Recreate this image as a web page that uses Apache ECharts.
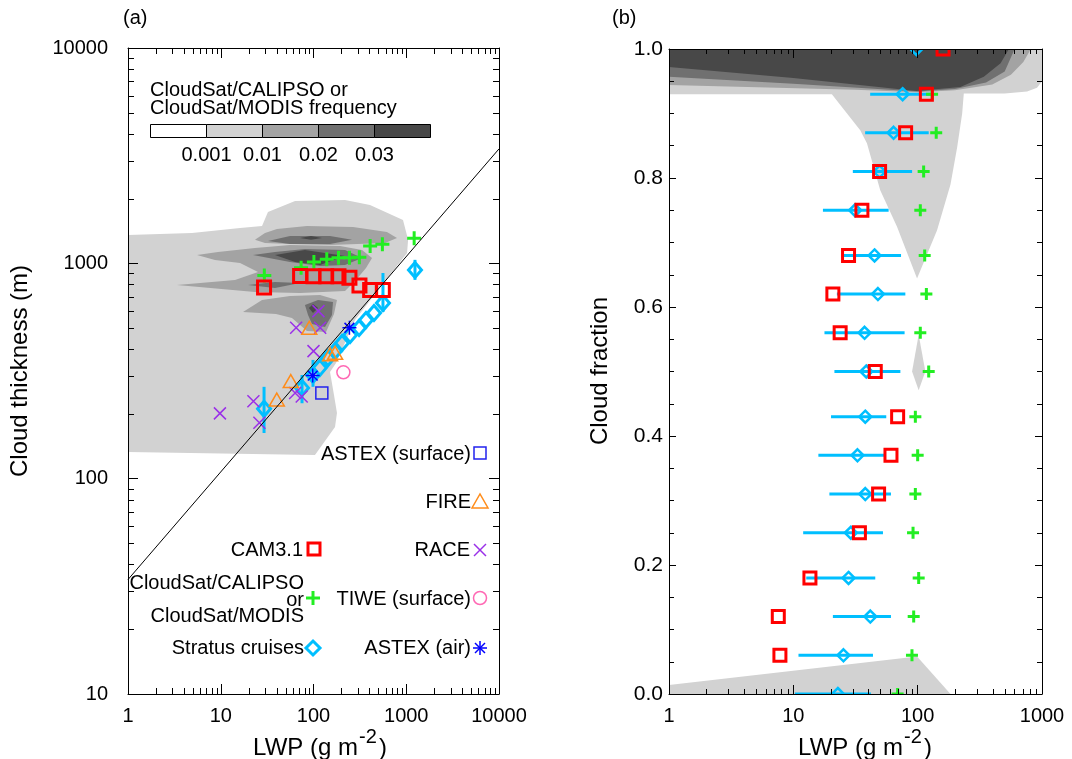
<!DOCTYPE html>
<html lang="en">
<head>
<meta charset="UTF-8">
<title>Cloud thickness / cloud fraction vs LWP</title>
<script src="https://cdn.jsdelivr.net/npm/echarts@6/dist/echarts.min.js"></script>
<style>
    html,body{margin:0;padding:0;background:#fff;}
    #main{width:1072px;height:759px;}
</style>
</head>
<body>
<div id="main"></div>
<script>
    // ---------- panel (a): LWP (g m-2) vs cloud thickness (m) ----------
    var camA = [[29.3,773],[71.7,873],[100,870],[137,870],[186,870],[244,858],[313,790],[408,751],[559,751]];
    var satA = [[29.5,879],[73.5,955],[101,1014],[139,1044],[186,1062],[244,1062],[312,1067],[408,1203],[553,1225],[1217,1307]];
    var stratusA = [[1242,931],[561,655],[449,588],[368,546],[310,501],[248,465],[203,427],[171,392],[143,363],[117,327],[98.8,303],[75.2,264],[29.3,211]];
    // [LWP, low, high]
    var stratusErrA = [[1242,838,1038],[561,594,902],[98.8,267,356],[75.2,224,303],[29.3,163,267]];
    var raceA = [[113,600],[65,502],[118,502],[100,391],[22.5,229],[9.8,201],[26.1,182],[63.4,250],[74.6,241]];
    var fireA = [[90,502],[151,378],[171,384],[56.9,284],[40.2,233]];
    var astexAirA = [[244,502],[98,301]];
    var tiweA = [[210,312]];
    var astexSfcA = [[123,250]];
    var fitLineA = [[1,34],[10000,3400]];

    // frequency contours, vertices as [log10 LWP, log10 thickness]
    var shadeA1 = [
        [[0,2.124],[0,3.132],[0.69,3.141],[1.208,3.164],[1.445,3.173],[1.509,3.238],[1.801,3.289],[2.34,3.294],[2.609,3.271],[2.965,3.201],[3.02,3.109],[3.009,3.048],[2.933,3.006],[2.447,2.737],[2.243,2.537],[2.178,2.495],[2.221,2.389],[2.253,2.305],[2.232,2.24],[2.016,2.11]]
    ];
    var shadeA2 = [
        [[1.369,3.109],[1.477,3.141],[1.606,3.159],[1.93,3.173],[2.426,3.169],[2.792,3.146],[2.9,3.118],[2.771,3.095],[2.178,3.085],[1.747,3.09],[1.477,3.095]],
        [[0.744,3.039],[0.97,3.053],[1.369,3.071],[1.747,3.085],[2.286,3.081],[2.523,3.062],[2.631,3.025],[2.566,2.978],[2.458,2.923],[2.34,2.872],[1.854,2.862],[1.369,2.867],[0.528,2.899],[1.154,2.923],[1.402,2.96],[1.208,3.002],[0.938,3.016]],
        [[1.24,2.774],[1.445,2.83],[1.747,2.848],[2.07,2.853],[2.253,2.83],[2.221,2.765],[2.135,2.681],[1.93,2.686],[1.768,2.746],[1.596,2.765]]
    ];
    var shadeA3 = [
        [[1.509,3.104],[1.747,3.127],[2.178,3.127],[2.415,3.109],[2.178,3.09],[1.747,3.09]],
        [[1.348,3.039],[1.585,3.053],[1.908,3.067],[2.34,3.062],[2.523,3.025],[2.34,2.992],[2.07,2.988],[1.747,3.006]],
        [[1.294,2.899],[1.585,2.913],[1.854,2.909],[1.585,2.885]],
        [[1.908,2.807],[2.049,2.83],[2.21,2.82],[2.199,2.76],[2.124,2.704],[1.984,2.718],[1.941,2.76]]
    ];
    var shadeA4 = [
        [[1.585,3.039],[1.908,3.062],[2.34,3.034],[2.07,2.992],[1.801,3.006]],
        [[1.854,3.118],[1.973,3.127],[2.092,3.118],[1.973,3.109]],
        [[1.951,2.793],[1.995,2.811],[2.049,2.793],[1.995,2.769]]
    ];

    // ---------- panel (b): LWP vs cloud fraction ----------
    var fracRows   = [0,0.06,0.12,0.18,0.25,0.31,0.37,0.43,0.5,0.56,0.62,0.68,0.75,0.81,0.87,0.93,1.0];
    var stratusB   = [22.8,25.3,41.6,27.8,29,37.9,32.8,37.9,38.6,37.4,47.9,45,31.4,49.4,64,75.7,97.7];
    var stratusLoB = [10.3,11,20.8,12.7,12,19.5,15.9,20.1,21.4,17.8,22.4,25.3,17.3,30.1,37.8,41.5,null];
    var stratusHiB = [42.1,43.7,61,45.6,52.6,61,55,55.9,72.6,78.5,79.6,73.5,58.4,90.2,122.7,130.6,null];
    var camB       = [null,7.8,7.57,13.6,34,48.5,61,69,45.6,23.8,20.8,27.8,35.6,49.4,80,117.5,160];
    var satB       = [69,90,92.9,101.9,91.8,95.8,100,95.8,122.7,105,117.5,113.9,105,111.7,141,130.6,null];

    // vertices as [log10 LWP, cloud fraction]
    var shadeB1 = [
        [[0,1],[0,0.93],[1.31,0.93],[1.538,0.874],[1.592,0.854],[1.699,0.781],[1.834,0.7245],[1.995,0.644],[2.156,0.719],[2.264,0.79],[2.318,0.848],[2.358,0.9],[2.371,0.931],[2.7,0.931],[2.88,0.934],[2.96,0.94],[3,0.95],[3,1]],
        [[1.955,0.5],[2.008,0.557],[2.062,0.5],[2.008,0.471]],
        [[0,0],[0,0.014],[1.995,0.058],[2.264,0]]
    ];
    var shadeB2 = [[[0,1],[0,0.944],[1.5,0.937],[2,0.933],[2.3,0.936],[2.6,0.945],[2.75,0.96],[2.85,0.98],[2.91,1]]];
    var shadeB3 = [[[0,1],[0,0.957],[1,0.946],[2,0.934],[2.3,0.938],[2.55,0.948],[2.7,0.965],[2.78,1]]];
    var shadeB4 = [[[0,1],[0,0.972],[1,0.955],[1.99,0.935],[2.344,0.941],[2.532,0.957],[2.667,0.978],[2.734,1]]];

    var colorbarLabels = ['0.001','0.01','0.02','0.03'];
    var shadeColors = ['#ffffff','#d2d2d2','#a3a3a3','#707070','#484848'];

    var FONT = 'Liberation Sans, Arial, sans-serif';
    var CYAN = '#00bfff', GREEN = '#22ee22', RED = '#ff0000', PURPLE = '#9a30e8',
        ORANGE = '#ff8c1a', BLUE = '#0000ff', PINK = '#ff69b4';

    var SQUARE = 'M0,0L10,0L10,10L0,10Z';
    var PLUS = 'M0,5L10,5M5,0L5,10';
    var CROSS = 'M0,0L10,10M10,0L0,10';
    var STAR = 'M5,0L5,10M0,5L10,5M1.5,1.5L8.5,8.5M8.5,1.5L1.5,8.5';
    var DIAMOND = 'M5,0L10,5L5,10L0,5Z';
    var TRIANGLE = 'M5,0L10,9L0,9Z';

    function pairs(xs, ys){
        var out=[];
        for(var i=0;i<xs.length;i++){ if(xs[i]!=null) out.push([xs[i], ys[i]]); }
        return out;
    }

    function shadeSeries(polys, color, ai, linY){
        return {
            type:'custom', xAxisIndex:ai, yAxisIndex:ai, silent:true, clip:true,
            data: polys.map(function(p){ return [Math.pow(10,p[0][0]), linY ? p[0][1] : Math.pow(10,p[0][1])]; }),
            renderItem:function(params, api){
                var pts = polys[params.dataIndex].map(function(p){
                    return api.coord([Math.pow(10,p[0]), linY ? p[1] : Math.pow(10,p[1])]);
                });
                return {type:'polygon', shape:{points:pts}, style:{fill:color}};
            }
        };
    }

    // hollow markers, clipped to the plot box like the original
    function marks(data, ai, shape, size, color, width){
        var w = Array.isArray(size) ? size[0] : size, h = Array.isArray(size) ? size[1] : size;
        return {
            type:'custom', xAxisIndex:ai, yAxisIndex:ai, clip:true, silent:true, data:data,
            renderItem:function(params, api){
                var c = api.coord([api.value(0), api.value(1)]);
                if(shape==='circle'){
                    return {type:'circle', shape:{cx:c[0], cy:c[1], r:w/2}, style:{fill:'none', stroke:color, lineWidth:width}};
                }
                return {type:'path', shape:{pathData:shape, x:c[0]-w/2, y:c[1]-h/2, width:w, height:h, layout:'cover'},
                    style:{fill:'none', stroke:color, lineWidth:width}};
            }
        };
    }

    // minor log ticks drawn through the axes' own scale, on both sides of the box
    var mant = [2,3,4,5,6,7,8,9];
    function minorVals(lo, hi){
        var out=[];
        for(var d=lo; d<hi; d*=10){ mant.forEach(function(m){ out.push(m*d); }); }
        return out;
    }
    function minorX(ai, vals, y0, y1, len){
        return {
            type:'custom', xAxisIndex:ai, yAxisIndex:ai, silent:true, z:20,
            data: vals.map(function(v){ return [v, y0]; }),
            renderItem:function(params, api){
                var v=api.value(0), b=api.coord([v,y0]), t=api.coord([v,y1]);
                var x=Math.round(b[0])+0.5;
                return {type:'group', children:[
                    {type:'line', shape:{x1:x,y1:b[1],x2:x,y2:b[1]-len}, style:{stroke:'#000',lineWidth:1}},
                    {type:'line', shape:{x1:x,y1:t[1],x2:x,y2:t[1]+len}, style:{stroke:'#000',lineWidth:1}}
                ]};
            }
        };
    }
    function minorY(ai, vals, x0, x1, len){
        return {
            type:'custom', xAxisIndex:ai, yAxisIndex:ai, silent:true, z:20,
            data: vals.map(function(v){ return [x0, v]; }),
            renderItem:function(params, api){
                var v=api.value(1), l=api.coord([x0,v]), r=api.coord([x1,v]);
                var y=Math.round(l[1])+0.5;
                return {type:'group', children:[
                    {type:'line', shape:{x1:l[0],y1:y,x2:l[0]+len,y2:y}, style:{stroke:'#000',lineWidth:1}},
                    {type:'line', shape:{x1:r[0],y1:y,x2:r[0]-len,y2:y}, style:{stroke:'#000',lineWidth:1}}
                ]};
            }
        };
    }

    function intLabel(v){ return String(Math.round(v)); }

    function logAxis(grid, pos, min, max, showLabel, tickLen, margin){
        return {
            type:'log', logBase:10, gridIndex:grid, position:pos, min:min, max:max, z:10,
            axisLine:{show:true, onZero:false, lineStyle:{color:'#000', width:1}},
            axisTick:{show:true, inside:true, length:tickLen, lineStyle:{color:'#000'}},
            axisLabel:{show:showLabel, fontSize:20, color:'#000', fontFamily:FONT, margin:margin,
                formatter:intLabel, showMinLabel:true, showMaxLabel:true},
            splitLine:{show:false}, minorTick:{show:false}
        };
    }
    function fracAxis(pos, showLabel){
        return {
            type:'value', gridIndex:1, position:pos, min:0, max:1, interval:0.2, z:10,
            axisLine:{show:true, onZero:false, lineStyle:{color:'#000', width:1}},
            axisTick:{show:true, inside:true, length:7, lineStyle:{color:'#000'}},
            minorTick:{show:true, splitNumber:4, length:5, lineStyle:{color:'#000'}},
            axisLabel:{show:showLabel, fontSize:21, color:'#000', fontFamily:FONT, margin:6,
                formatter:function(v){ return v.toFixed(1); }},
            splitLine:{show:false}
        };
    }

    function txt(x, y, s, size, align, extra){
        var e = {type:'text', x:x, y:y, z:50, silent:true,
            style:{text:s, fontSize:size, fontFamily:FONT, fill:'#000',
                textAlign:align||'left', textVerticalAlign:'middle'}};
        if(extra){ for(var k in extra) e[k]=extra[k]; }
        return e;
    }
    function seg(x1,y1,x2,y2,c,w){
        return {type:'line', z:50, silent:true, shape:{x1:x1,y1:y1,x2:x2,y2:y2}, style:{stroke:c, lineWidth:w}};
    }

    var graphics = [
        txt(123, 18, '(a)', 20),
        txt(612, 18, '(b)', 20),
        txt(20, 371, 'Cloud thickness (m)', 24, 'center', {rotation:Math.PI/2}),
        txt(600, 371, 'Cloud fraction', 24, 'center', {rotation:Math.PI/2}),
        txt(358, 748, 'LWP (g m', 24, 'right'),
        txt(359, 737, '-2', 20, 'left'),
        txt(379, 748, ')', 24, 'left'),
        txt(903, 748, 'LWP (g m', 24, 'right'),
        txt(904, 737, '-2', 20, 'left'),
        txt(924, 748, ')', 24, 'left'),
        // colorbar
        txt(150, 90, 'CloudSat/CALIPSO or', 20),
        txt(150, 108, 'CloudSat/MODIS frequency', 20)
    ];
    for(var i=0;i<shadeColors.length;i++){
        graphics.push({type:'rect', z:50, silent:true, shape:{x:150.5+56*i, y:124.5, width:56, height:13},
            style:{fill:shadeColors[i], stroke:'#000', lineWidth:1}});
    }
    colorbarLabels.forEach(function(s,i){ graphics.push(txt(206.5+56*i, 155, s, 20, 'center')); });

    // legend of panel (a)
    graphics.push(
        txt(471, 454, 'ASTEX (surface)', 20, 'right'),
        {type:'rect', z:50, silent:true, shape:{x:474, y:447, width:12, height:12}, style:{fill:'none', stroke:'#2222ee', lineWidth:1.5}},
        txt(471, 502, 'FIRE', 20, 'right'),
        {type:'polygon', z:50, silent:true, shape:{points:[[472,508],[488,508],[480,494]]}, style:{fill:'none', stroke:ORANGE, lineWidth:1.5}},
        txt(470, 550, 'RACE', 20, 'right'),
        seg(474,544,486,556,PURPLE,1.5), seg(486,544,474,556,PURPLE,1.5),
        txt(471, 599, 'TIWE (surface)', 20, 'right'),
        {type:'circle', z:50, silent:true, shape:{cx:480, cy:598, r:6.5}, style:{fill:'none', stroke:PINK, lineWidth:1.5}},
        txt(471, 648, 'ASTEX (air)', 20, 'right'),
        seg(480,641,480,655,BLUE,1.5), seg(473,648,487,648,BLUE,1.5),
        seg(475,643,485,653,BLUE,1.5), seg(485,643,475,653,BLUE,1.5),
        txt(303, 550, 'CAM3.1', 20, 'right'),
        {type:'rect', z:50, silent:true, shape:{x:308, y:543, width:12, height:12}, style:{fill:'none', stroke:RED, lineWidth:3}},
        txt(304, 583, 'CloudSat/CALIPSO', 20, 'right'),
        txt(304, 600, 'or', 20, 'right'),
        txt(304, 616, 'CloudSat/MODIS', 20, 'right'),
        seg(306,598,320,598,GREEN,3), seg(313,591,313,605,GREEN,3),
        txt(304, 648, 'Stratus cruises', 20, 'right'),
        {type:'polygon', z:50, silent:true, shape:{points:[[313,641],[320,648],[313,655],[306,648]]}, style:{fill:'none', stroke:CYAN, lineWidth:3}}
    );

    var errBarsB = [];
    for(var r=0;r<fracRows.length;r++){
        if(stratusLoB[r]!=null) errBarsB.push([stratusLoB[r], stratusHiB[r], fracRows[r]]);
    }

    var chart = echarts.init(document.getElementById('main'));
    chart.setOption({
        animation:false,
        backgroundColor:'#fff',
        textStyle:{fontFamily:FONT},
        grid:[
            {left:128, top:48, width:371, height:646},
            {left:669, top:49, width:373, height:645}
        ],
        xAxis:[
            logAxis(0,'bottom',1,10000,true,10,12),
            logAxis(0,'top',1,10000,false,10,8),
            logAxis(1,'bottom',1,1000,true,9,12),
            logAxis(1,'top',1,1000,false,9,8)
        ],
        yAxis:[
            logAxis(0,'left',10,10000,true,10,20),
            logAxis(0,'right',10,10000,false,10,8),
            fracAxis('left',true),
            fracAxis('right',false)
        ],
        graphic:{elements:graphics},
        series:[
            shadeSeries(shadeA1, shadeColors[1], 0, false),
            shadeSeries(shadeA2, shadeColors[2], 0, false),
            shadeSeries(shadeA3, shadeColors[3], 0, false),
            shadeSeries(shadeA4, shadeColors[4], 0, false),
            {type:'line', xAxisIndex:0, yAxisIndex:0, data:fitLineA, symbol:'none', silent:true,
                lineStyle:{color:'#000', width:1}},
            {type:'custom', xAxisIndex:0, yAxisIndex:0, silent:true, clip:true,
                data:stratusErrA, encode:{x:0, y:[1,2]},
                renderItem:function(params, api){
                    var a=api.coord([api.value(0), api.value(1)]), b=api.coord([api.value(0), api.value(2)]);
                    return {type:'line', shape:{x1:a[0],y1:a[1],x2:b[0],y2:b[1]}, style:{stroke:CYAN, lineWidth:3}};
                }},
            marks(stratusA, 0, DIAMOND, [13,15], CYAN, 3),
            marks(raceA, 0, CROSS, 12, PURPLE, 1.5),
            marks(fireA, 0, TRIANGLE, [15,13], ORANGE, 1.5),
            marks(astexAirA, 0, STAR, 14, BLUE, 1.5),
            marks(tiweA, 0, 'circle', 13, PINK, 1.5),
            marks(astexSfcA, 0, SQUARE, 12, '#2222ee', 1.5),
            marks(satA, 0, PLUS, 14, GREEN, 3),
            marks(camA, 0, SQUARE, 13, RED, 3),
            minorX(0, minorVals(1,10000), 10, 10000, 6),
            minorY(0, minorVals(10,10000), 1, 10000, 6),

            shadeSeries(shadeB1, shadeColors[1], 2, true),
            shadeSeries(shadeB2, shadeColors[2], 2, true),
            shadeSeries(shadeB3, shadeColors[3], 2, true),
            shadeSeries(shadeB4, shadeColors[4], 2, true),
            {type:'custom', xAxisIndex:2, yAxisIndex:2, silent:true, clip:true,
                data:errBarsB, encode:{x:[0,1], y:2},
                renderItem:function(params, api){
                    var a=api.coord([api.value(0), api.value(2)]), b=api.coord([api.value(1), api.value(2)]);
                    return {type:'line', shape:{x1:a[0],y1:a[1],x2:b[0],y2:b[1]}, style:{stroke:CYAN, lineWidth:3}};
                }},
            marks(pairs(stratusB, fracRows), 2, DIAMOND, 12, CYAN, 2.5),
            marks(pairs(satB, fracRows), 2, PLUS, 12, GREEN, 3),
            marks(pairs(camB, fracRows), 2, SQUARE, 12, RED, 3),
            minorX(2, minorVals(1,1000), 0, 1, 5)
        ]
    });
</script>
</body>
</html>
